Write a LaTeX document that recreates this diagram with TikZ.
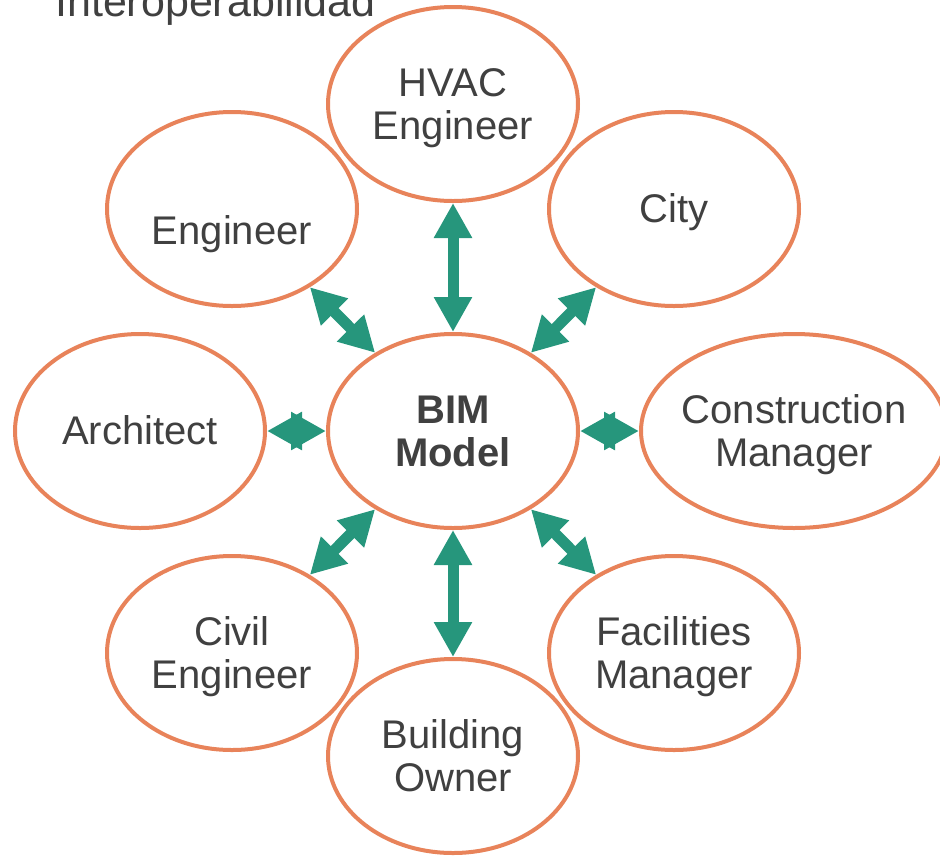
\documentclass[tikz,border=0pt]{standalone}
\usepackage{fontspec}
\setmainfont{Liberation Sans}
\usetikzlibrary{shapes.geometric,arrows.meta}

\definecolor{bimorange}{RGB}{232,131,90}
\definecolor{bimgreen}{RGB}{38,150,124}
\definecolor{bimtext}{RGB}{64,64,64}

\begin{document}
\begin{tikzpicture}[x=1pt,y=-1pt,
		party/.style={ellipse,draw=bimorange,fill=white,line width=4pt,minimum width=250pt,minimum height=194pt,
			inner sep=0pt,align=center,text=bimtext,font=\fontsize{40}{43}\selectfont,text height=36pt,text depth=8.5pt},
		twoline/.style={text height=79pt},
		link/.style={draw=bimgreen,line width=11pt,>={Triangle[length=35pt,width=36pt]},<->}]
		\useasboundingbox (0,0) rectangle (940,855);

		\node[anchor=base west,inner sep=0pt,text=bimtext,font=\fontsize{43}{43}\selectfont] (title) at (55,16) {Interoperabilidad};

		\node[party,twoline,font=\bfseries\fontsize{40}{43}\selectfont] (bim) at (453,431) {BIM\\Model};

		\node[party,twoline] (hvac) at (453,104) {HVAC\\Engineer};
		\node[party,twoline] (eng) at (232,209) {\strut\\Engineer};
		\node[party] (city) at (674,209) {City};
		\node[party] (arch) at (140,431) {Architect};
		\node[party,twoline,minimum width=306pt,inner xsep=-30pt] (cm) at (794,431) {Construction\\Manager};
		\node[party,twoline] (civil) at (232,653) {Civil\\Engineer};
		\node[party,twoline] (fm) at (674,653) {Facilities\\Manager};
		\node[party,twoline] (owner) at (453,756) {Building\\Owner};

		\foreach \p in {hvac,eng,city,arch,cm,civil,fm,owner} { \draw[link] (bim) -- (\p);}
	\end{tikzpicture}
\end{document}
